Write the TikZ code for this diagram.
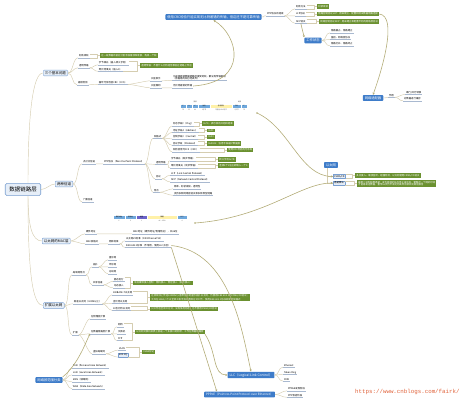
\documentclass[tikz,border=0pt]{standalone}
\usepackage{fontspec}
\setmainfont{Noto Sans CJK SC}
\setmonofont{Liberation Mono}
\usepackage{tikz}
\usetikzlibrary{arrows.meta,calc}

\definecolor{topicblue}{HTML}{3E7CC9}
\definecolor{lightfill}{HTML}{E6EEF8}
\definecolor{lightdraw}{HTML}{7A9FD0}
\definecolor{notegreen}{HTML}{6B9130}
\definecolor{branchcol}{HTML}{D5CDB0}
\definecolor{linkcol}{HTML}{B3AC78}
\definecolor{ulinecol}{HTML}{A9B9D0}
\definecolor{cellblue}{HTML}{6FA8DC}
\definecolor{cellyellow}{HTML}{FFF1A8}
\definecolor{cellpurple}{HTML}{6B63C9}
\definecolor{urlred}{HTML}{E0623A}

\newcommand{\fsz}[1]{\fontsize{#1}{#1}\selectfont}
% bracket from a run of leaves to their green note
\newcommand{\nb}[3]{%
  \draw[branch] (#1.north east) -| ($(#3.west)+(-2.5,0)$) |- (#2.south east);
  \draw[branch] ($(#3.west)+(-2.5,0)$) -- (#3.west);}

\tikzset{
  root/.style={draw=lightdraw, fill=lightfill, rounded corners=1.5pt, line width=0.6pt, font=\fsz{5.5}, inner xsep=4pt, inner ysep=3.5pt},
  main/.style={draw=lightdraw, fill=lightfill, rounded corners=1pt, line width=0.4pt, font=\fsz{3.5}, inner xsep=1.8pt, inner ysep=1.3pt, anchor=west},
  float/.style={fill=topicblue, text=white, rounded corners=0.8pt, font=\fsz{3.3}, inner xsep=2pt, inner ysep=1.4pt},
  leaf/.style={font=\fsz{2.4}, inner xsep=0.8pt, inner ysep=0.5pt, anchor=west, align=left,
    append after command={(\tikzlastnode.south west) edge[uline] (\tikzlastnode.south east)}},
  box/.style={draw=lightdraw, fill=lightfill, font=\fsz{2.4}, inner xsep=1pt, inner ysep=0.8pt, anchor=west},
  note/.style={fill=notegreen, text=white, font=\fsz{2.4}, inner xsep=1.2pt, inner ysep=0.9pt, anchor=west, align=left},
  uline/.style={draw=ulinecol, line width=0.3pt},
  branch/.style={draw=branchcol, line width=0.45pt},
  xlink/.style={draw=linkcol, line width=0.6pt, -{Stealth[length=2.2pt,width=2.2pt]}},
  cell/.style={draw=white, line width=0.2pt, font=\fsz{1.6}, inner sep=0pt, minimum height=4.5pt, anchor=west},
  cellnum/.style={font=\fsz{1.6}, inner sep=0.2pt, text=black!70},
}

\begin{document}
\begin{tikzpicture}[x=1pt,y=-1pt,line join=round]
  \useasboundingbox (0,0) rectangle (467,400);

  % centre and first level
  \node[root] (root) at (23,189.5) {数据链路层};
  \node[main] (basic) at (43,73) {三个基本问题};
  \node[main] (chan) at (55,184) {两种信道};
  \node[main] (mac) at (42,241) {以太网的MAC层};
  \node[main] (lan) at (43,305.5) {扩展以太网};
  \draw[branch] ($(root.north)+(5,0)$) .. controls +(0,-70) and +(-10,0) .. (basic.west);
  \draw[branch] (root.east) .. controls +(5,0) and +(-5,0) .. (chan.west);
  \draw[branch] ($(root.south)+(5,0)$) .. controls +(0,30) and +(-10,0) .. (mac.west);
  \draw[branch] ($(root.south)+(5,0)$) .. controls +(0,80) and +(-10,0) .. (lan.west);

  % three basic problems
  \node[leaf] (frame) at (78,56) {封装成帧};
  \node[leaf] (transp) at (78,66) {透明传输};
  \node[leaf] (errdet) at (77,83) {差错检测};
  \node[note] (framen) at (100,55.5) {在一段数据的前后分别添加首部和尾部，构成一个帧};
  \node[leaf] (bytefill) at (98,63) {字节填充（插入转义字符）};
  \node[leaf] (bitfill) at (98,69.5) {零比特填充（插入0）};
  \node[note] (transpn) at (140,65.5) {透明传输：不管什么比特组合都能在链路上传送};
  \node[leaf] (crc) at (98,82.5) {循环冗余检验CRC（FCS）};
  \node[leaf] (crcyes) at (150,79) {只能表示};
  \node[leaf] (crcno) at (150,86) {只能做到};
  \node[leaf] (crcyesd) at (172,77.3) {凡是接收端数据链路层接受的帧，都没有传输差错\\（有差错的帧已经丢弃）};
  \node[leaf] (crcnod) at (172,86) {无比特差错的传输};

  % PPP summary, top
  \node[float] (crcnote) at (213.5,17) {使用CRC检验只能实现无比特差错的传输，但这还不是可靠传输};
  \node[leaf] (pppparts) at (266,14) {PPP协议的组成};
  \node[leaf] (encap) at (295,7) {封装方法};
  \node[leaf] (lcp) at (295,14) {LCP协议};
  \node[leaf] (ncp) at (295,21.5) {NCP协议};
  \node[note] (encapn) at (317,6.5) {封装成帧};
  \node[note] (lcpn) at (317,14) {链路控制协议LCP：用来建立、配置和测试数据链路连接};
  \node[note] (ncpn) at (319,21.5) {网络控制协议NCP：用来建立和配置不同的网络层协议};
  \node[float] (pppstate) at (313,40.5) {工作状态};
  \node[leaf] (st1) at (330,31) {链路静止、链路建立};
  \node[leaf] (st2) at (330,37.5) {鉴别、网络层协议};
  \node[leaf] (st3) at (330,44) {链路打开、链路终止};

  % adapter
  \node[float] (adapter) at (373,98) {网络适配器};
  \node[leaf] (use) at (388,95.5) {作用};
  \node[leaf] (conv) at (405,92.5) {串行/并行转换};
  \node[leaf] (buf) at (403,99) {对数据进行缓存};

  % channels
  \node[leaf] (p2p) at (82,162) {点对点信道};
  \node[leaf] (ppp) at (103,162) {PPP协议（Point-to-Point Protocol）};
  \node[leaf] (bcast) at (82,200) {广播信道};
  \node[leaf] (pppfmt) at (153,136.5) {帧格式};
  \node[leaf] (flag) at (172,124) {标志字段F（Flag）};
  \node[leaf] (addr) at (172,130.5) {地址字段A（Address）};
  \node[leaf] (ctrl) at (172,137) {控制字段C（Control）};
  \node[leaf] (proto) at (172,143.5) {协议字段（Protocol）};
  \node[leaf] (fcs) at (172,150) {帧检验序列FCS（CRC）};
  \node[note] (flagn) at (202,123.5) {0x7E，表示帧的开始和结束};
  \node[note] (addrn) at (207,130.5) {0xFF};
  \node[note] (ctrln) at (207,137) {0x03};
  \node[note] (proton) at (207,143.5) {0x0021：信息字段是IP数据报};
  \node[note] (fcsn) at (227,150) {使用CRC检验的冗余码};
  \node[leaf] (ppptr) at (155,162.5) {透明传输};
  \node[leaf] (esc) at (170,159) {字节填充（异步传输）};
  \node[leaf] (zero) at (170,166) {零比特填充（同步传输）};
  \node[note] (escn) at (218,159.5) {转义字符0x7D};
  \node[note] (zeron) at (218,165.5) {连续5个1后立即填入一个0};
  \node[leaf] (pppproto) at (155,177) {协议};
  \node[leaf] (lcpf) at (170,173.5) {LCP（Link Control Protocol）};
  \node[leaf] (ncpf) at (170,180) {NCP（Network Control Protocol）};
  \node[leaf] (pppfeat) at (153,190.5) {特点};
  \node[leaf] (feat1) at (173,187) {简单、封装成帧、透明性};
  \node[leaf] (feat2) at (173,193.5) {支持多种网络层协议和多种类型链路};

  % PPP frame
  \foreach \x/\w/\t/\c [count=\i] in {180/6/F/cellblue, 186/6/A/cellblue, 192/6/C/cellblue,
      198/12/协议/cellblue, 210/22/信息部分/cellyellow, 232/9/FCS/cellblue, 241/6/F/cellblue}
    \node[cell, fill=\c, minimum width=\w pt] (pf\i) at (\x,106) {\t};
  \foreach \t [count=\i] in {7E, FF, 03, 2字节, 不超过1500字节, 2字节, 7E}
    \node[cellnum] (pfl\i) at ($(pf\i.south)+(0,2)$) {\t};
  \node[cellnum] (pfhead) at ($(pf1.north west)!0.5!(pf4.north east)+(0,-2)$) {首部};
  \node[cellnum] (pftail) at ($(pf6.north west)!0.5!(pf7.north east)+(0,-2)$) {尾部};
  \coordinate (pfdot) at (257,113);

  % MAC layer
  \node[leaf] (hwaddr) at (85,232) {硬件地址};
  \node[leaf] (macaddr) at (132,232) {MAC地址（硬件地址/物理地址），共48位};
  \node[leaf] (macfmt) at (85,242) {MAC帧格式};
  \node[leaf] (std) at (108,242) {两种标准};
  \node[leaf] (v2) at (125,239) {以太网V2标准（DIX Ethernet V2）};
  \node[leaf] (ieee) at (125,245.5) {IEEE 802.3标准（不常用，使用LLC子层）};
  \foreach \x/\w/\t/\c [count=\i] in {113/12/目的地址/cellblue, 125/11/源地址/cellblue,
      136/11/类型/cellpurple, 147/30/数据/cellyellow, 177/10/FCS/cellblue}
    \node[cell, fill=\c, minimum width=\w pt] (mf\i) at (\x,217) {\t};
  \foreach \t [count=\i] in {6, 6, 2, 46\,--\,1500, 4}
    \node[cellnum] (mfl\i) at ($(mf\i.south)+(0,2)$) {\t};
  \coordinate (mfdot) at (195,223);

  % ethernet
  \node[float] (ether) at (331,165) {以太网};
  \node[box] (csma) at (333,176.5) {CSMA/CD};
  \node[box] (backoff) at (333,183) {退避算法};
  \node[note] (csman) at (355,175.5) {多点接入、载波监听、碰撞检测，以太网使用CSMA/CD协议};
  \node[note] (backoffn) at (357,183.5) {截断二进制指数退避：发生碰撞的站在停止发送后，要推迟一个随机时间\\才能再发送数据，重传16次仍不成功则丢弃该帧并向高层报告};
  \draw[branch] ($(ether.south west)+(3,0)$) |- (csma.west);
  \draw[branch] ($(ether.south west)+(3,0)$) |- (backoff.west);

  % extended LAN
  \node[leaf] (topo) at (72,273) {局域网特点};
  \node[leaf] (shape) at (92,265) {拓扑};
  \node[leaf] (star) at (108,258) {星形网};
  \node[leaf] (ring) at (108,265) {环形网};
  \node[leaf] (bus) at (108,272) {总线网};
  \node[leaf] (share) at (92,283) {共享信道};
  \node[leaf] (static) at (113,279.5) {静态划分};
  \node[leaf] (dynamic) at (113,286) {动态接入};
  \node[note] (dynamicn) at (133,283) {动态媒体接入控制：随机接入、受控接入（多点接入）};
  \node[leaf] (fast) at (73,302) {高速以太网（100M以上）};
  \node[leaf] (fe) at (112,293) {100BASE-T以太网};
  \node[leaf] (ge) at (112,301.5) {吉比特以太网};
  \node[leaf] (xge) at (112,308.5) {10吉比特以太网};
  \node[note] (fen) at (150,297.5) {在双绞线上传送100Mbit/s基带信号的星形拓扑以太网，仍使用IEEE 802.3的CSMA/CD协议；\\允许在1Gbit/s下以全双工和半双工两种方式工作，使用IEEE 802.3协议规定的帧格式};
  \node[note] (xgen) at (150,309) {只工作在全双工方式，没有争用问题，也不使用CSMA/CD协议};
  \node[leaf] (ext) at (72,333) {扩展};
  \node[leaf] (extphy) at (90,317) {在物理层扩展};
  \node[leaf] (extdl) at (90,332) {在数据链路层扩展};
  \node[leaf] (bridge) at (117,325) {网桥};
  \node[leaf] (switch) at (117,332) {交换机};
  \node[leaf] (stp) at (117,339) {STP};
  \node[note] (switchn) at (135,332) {以太网交换机实质上就是一个多接口的网桥，工作在数据链路层};
  \node[leaf] (vlan) at (92,352) {虚拟局域网};
  \node[leaf] (vlan1) at (118,348.5) {VLAN};
  \node[box] (vlan2) at (118,355) {802.1Q};
  \node[note] (vlann) at (142,352) {VLAN标记};

  % bottom topics
  \node[float] (scope) at (49,380) {网络按范围分类};
  \node[leaf] (pan) at (72,366) {PAN（Personal Area Network）};
  \node[leaf] (lan2) at (72,373) {LAN（Local Area Network）};
  \node[leaf] (man) at (72,380) {MAN（城域网）};
  \node[leaf] (wan) at (72,387) {WAN（Wide Area Network）};
  \node[float] (llc) at (251,375) {LLC（Logical Link Control）};
  \node[leaf] (eth) at (283,365.5) {Ethernet};
  \node[leaf] (token) at (283,372.5) {Token Ring};
  \node[leaf] (fddi) at (283,379.5) {FDDI};
  \node[float, font=\fsz{3}] (pppoe) at (239.5,394.5) {PPPoE（Point-to-Point Protocol over Ethernet）};
  \node[leaf] (disc) at (287,389) {PPPoE发现阶段};
  \node[leaf] (sess) at (287,395.5) {PPP会话阶段};

  \node[font=\ttfamily\fsz{5.8}, text=urlred, anchor=west, inner sep=0pt] (url) at (355,392) {https://www.cnblogs.com/fairk/};

  % tree lines
  \foreach \p/\c in {basic/frame, basic/transp, basic/errdet, chan/p2p, chan/bcast, mac/hwaddr,
      mac/macfmt, lan/topo, lan/fast, lan/ext, crcnote/pppparts, pppstate/st1, pppstate/st2,
      pppstate/st3, adapter/use, llc/eth, llc/token, llc/fddi, pppoe/disc, pppoe/sess,
      scope/pan, scope/lan2, scope/man, scope/wan}
    \draw[branch] (\p.east) .. controls +(5,0) and +(-5,0) .. (\c.south west);
  \foreach \p/\c in {transp/bytefill, transp/bitfill, errdet/crc, crc/crcyes, crc/crcno,
      crcyes/crcyesd, crcno/crcnod, pppparts/encap, pppparts/lcp, pppparts/ncp, use/conv, use/buf,
      p2p/ppp, ppp/pppfmt, ppp/ppptr, ppp/pppproto, ppp/pppfeat, pppfmt/flag, pppfmt/addr,
      pppfmt/ctrl, pppfmt/proto, pppfmt/fcs, ppptr/esc, ppptr/zero, pppproto/lcpf, pppproto/ncpf,
      pppfeat/feat1, pppfeat/feat2, hwaddr/macaddr, macfmt/std, std/v2, std/ieee, topo/shape,
      topo/share, shape/star, shape/ring, shape/bus, share/static, share/dynamic, fast/fe,
      fast/ge, fast/xge, ext/extphy, ext/extdl, ext/vlan, extdl/bridge, extdl/switch, extdl/stp,
      vlan/vlan1, vlan/vlan2}
    \draw[branch] (\p.south east) .. controls +(4,0) and +(-4,0) .. (\c.south west);

  % notes
  \nb{frame}{frame}{framen}
  \nb{bytefill}{bitfill}{transpn}
  \nb{encap}{encap}{encapn}
  \nb{lcp}{lcp}{lcpn}
  \nb{ncp}{ncp}{ncpn}
  \nb{flag}{flag}{flagn}
  \nb{addr}{addr}{addrn}
  \nb{ctrl}{ctrl}{ctrln}
  \nb{proto}{proto}{proton}
  \nb{fcs}{fcs}{fcsn}
  \nb{esc}{esc}{escn}
  \nb{zero}{zero}{zeron}
  \nb{csma}{csma}{csman}
  \nb{backoff}{backoff}{backoffn}
  \nb{static}{dynamic}{dynamicn}
  \nb{fe}{ge}{fen}
  \nb{xge}{xge}{xgen}
  \nb{bridge}{stp}{switchn}
  \nb{vlan1}{vlan2}{vlann}

  % relationship lines
  \draw[xlink] (crcnod.east) .. controls (250,82) and (238,35) .. (crcnote.south);
  \draw[xlink] (ncp.south) -- (pppstate.north west);
  \draw[xlink] (lcpn.east) .. controls (398,16) and (382,70) .. (adapter.north);
  \fill[linkcol] (pfdot) circle (0.9);
  \draw[xlink] (pfdot) .. controls (290,128) and (300,176) .. (csma.west);
  \fill[linkcol] (mfdot) circle (0.9);
  \draw[xlink] (mfdot) .. controls (265,218) and (300,183) .. (backoff.west);
  \draw[xlink] (ieee.east) .. controls (230,252) and (242,330) .. (llc.north);
  \draw[xlink] (ieee.south east) -- ($(pppoe.north west)+(13,0)$);
  \draw[xlink] (switchn.south east) .. controls +(12,18) and +(-15,0) .. (llc.west);
  \draw[xlink] (scope.north east) .. controls +(15,-12) and +(-4,8) .. (extdl.south west);
\end{tikzpicture}
\end{document}
